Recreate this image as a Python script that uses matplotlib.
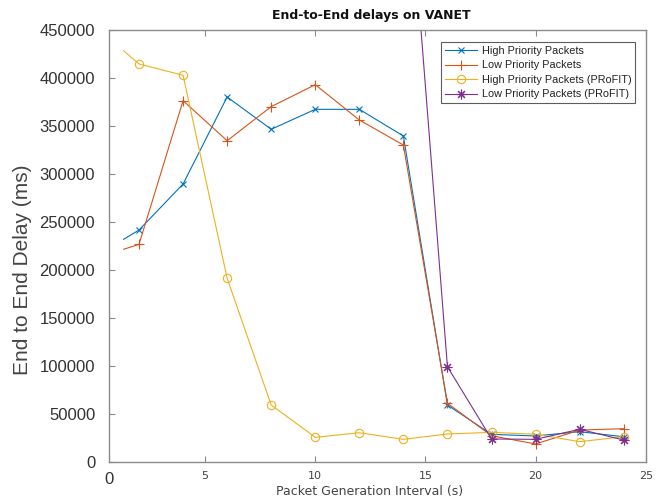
import numpy as np
import matplotlib
matplotlib.use('agg')
from matplotlib import pyplot as plt

# packet generation interval (s); first point has no marker
x = [1.3, 2, 4, 6, 8, 10, 12, 14, 16, 18, 20, 22, 24]
high = [231800, 241500, 289500, 380200, 346500, 367300, 367300, 339500, 59100, 28500, 26800, 31300, 26000]
low = [221400, 226600, 376300, 334600, 370100, 393000, 356200, 330100, 60900, 27000, 18500, 33000, 34400]
high_profit = [428400, 414600, 402800, 191200, 59100, 25400, 30200, 23300, 28900, 30600, 28600, 20900, 26000]
x_low_profit = [14, 16, 18, 20, 22, 24]
low_profit = [684000, 99000, 23700, 23300, 33800, 22600]

labels = ["High Priority Packets", "Low Priority Packets",
          "High Priority Packets (PRoFIT)", "Low Priority Packets (PRoFIT)"]
colors = ["#0072BD", "#D95319", "#EDB120", "#7E2F8E"]

fig = plt.figure(figsize=(6.65, 5), dpi=100)
ax = fig.add_axes([0.164, 0.0766, 0.807, 0.8634])

lw = 0.8
ax.plot(x, high, color=colors[0], marker='x', ms=5, mew=0.8, lw=lw,
        markevery=range(1, len(x)), label=labels[0])
ax.plot(x, low, color=colors[1], marker='+', ms=7, mew=0.8, lw=lw,
        markevery=range(1, len(x)), label=labels[1])
ax.plot(x, high_profit, color=colors[2], marker='o', ms=6, mew=0.8, mfc='none', lw=lw,
        markevery=range(1, len(x)), label=labels[2])
ax.plot(x_low_profit, low_profit, color=colors[3], marker=(8, 2, 0), ms=7, mew=0.8, lw=lw,
        markevery=range(1, len(x_low_profit)), label=labels[3])

ax.set_xlim(0.64, 25)
ax.set_ylim(0, 450000)
ax.set_xticks([5, 10, 15, 20, 25])
ax.set_yticks(np.arange(0, 450001, 50000))

for s in ax.spines.values():
    s.set_color('#8a8a8a')
    s.set_linewidth(1.0)

ax.tick_params(axis='x', direction='in', top=True, bottom=True, length=4, width=0.8,
               color='#8a8a8a', labelsize=8, labelcolor='#444444', pad=7)
ax.tick_params(axis='y', direction='in', left=True, right=False, length=4, width=0.8,
               color='#8a8a8a', labelsize=12, labelcolor='#333333', pad=10)
for t in ax.get_yticklabels():
    t.set_family('Liberation Sans')

ax.set_ylabel("End to End Delay (ms)", fontsize=15, family='Liberation Sans', color='#444444')
ax.yaxis.set_label_coords(-0.1437, 0.444)
fig.text(370 / 665, 1 - 491 / 500, "Packet Generation Interval (s)", fontsize=9,
         color='#444444', ha='center', va='center')
fig.text(109 / 665, 1 - 480 / 500, "0", fontsize=12, family='Liberation Sans',
         color='#333333', ha='center', va='center')
fig.text(371 / 665, 1 - 15 / 500, "End-to-End delays on VANET", fontsize=9,
         weight='bold', ha='center', va='center', color='#111111')

leg = ax.legend(loc='upper right', bbox_to_anchor=(635 / 665, 1 - 42 / 500),
                bbox_transform=fig.transFigure, borderaxespad=0,
                prop={'family': 'Liberation Sans', 'size': 7.8}, frameon=True, fancybox=False,
                edgecolor='#333333', handlelength=3.0,
                labelspacing=0.42, borderpad=0.35, handletextpad=0.4)
leg.get_frame().set_linewidth(0.8)
for t in leg.get_texts():
    t.set_color('#222222')

fig.savefig("out.png", dpi=100)
